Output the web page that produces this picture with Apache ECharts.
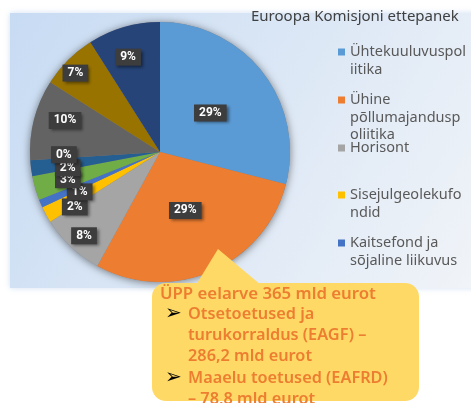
<!DOCTYPE html>
<html>
<head>
<meta charset="utf-8"/>
<title>Euroopa Komisjoni ettepanek</title>
<script type="text/javascript" src="https://cdn.jsdelivr.net/npm/echarts@6/dist/echarts.min.js"></script>
<style type="text/css">
	body{
		margin: 0px;
		padding: 0px;
		background: #fff;
	}
	#chart{
		width: 471px;
		height: 403px;
	}
</style>
</head>
<body>
	<div id="chart"></div>
<script type="text/javascript">
	// 数据
	var names = ['Ühtekuuluvuspoliitika','Ühine põllumajanduspoliitika','Horisont','Sisejulgeolekufondid','Kaitsefond ja sõjaline liikuvus','Erasmus+','Euroopa ühendamise rahastu','Muu','Naabrus ja maailm','Ränne ja piirihaldus','Euroopa avalik haldus'];
	var values = [29, 29, 8, 2, 1, 3, 2, 0, 10, 7, 9];
	var legendNames = ['Ühtekuuluvuspoliitika','Ühine põllumajanduspoliitika','Horisont','Sisejulgeolekufondid','Kaitsefond ja sõjaline liikuvus'];
	var legendLines = [['Ühtekuuluvuspol','iitika'],['Ühine','põllumajandusp','oliitika'],['Horisont'],['Sisejulgeolekufo','ndid'],['Kaitsefond ja','sõjaline liikuvus']];
	var calloutHead = 'ÜPP eelarve 365 mld eurot';
	var calloutItems = [['Otsetoetused ja','turukorraldus (EAGF) –','286,2 mld eurot'],['Maaelu toetused (EAFRD)','– 78,8 mld eurot']];

	// 样式
	var colors = ['#5B9BD5','#ED7D31','#A5A5A5','#FFC000','#4472C4','#70AD47','#255E91','#9E480E','#636363','#997300','#264478'];
	var CX = 160, CY = 152, R = 130;
	var labelDist = [0.49, 0.49, 0.87, 0.78, 0.69, 0.74, 0.72, 0.74, 0.77, 0.89, 0.77];
	var labelShift = [0, 0, -1, -4, -3, -0.5, -2.5, 2, 4, -2, -2.4];
	var legendY = [52, 100, 148, 195, 243];
	var LH = 17.5;

	// 标签中心角
	var total = 0;
	for (var i = 0; i < values.length; i++) total += values[i];
	var mids = [];
	var acc = 0;
	for (var i = 0; i < values.length; i++) {
		mids.push(((acc + values[i] / 2) / total * 360 + labelShift[i]) * Math.PI / 180);
		acc += values[i];
	}

	var pieData = [];
	for (var i = 0; i < names.length; i++) {
		pieData.push({name: names[i], value: values[i]});
	}

	// 图例, 每项一个; 前面补空行让首行对齐图标
	var legends = [];
	for (var i = 0; i < legendNames.length; i++) {
		var n = legendLines[i].length;
		var pad = '';
		for (var k = 1; k < n; k++) pad += ' \n';
		legends.push({
			data: [legendNames[i]],
			left: 338,
			top: legendY[i] - (2 * n - 1) * LH / 2,
			padding: 0,
			icon: 'rect',
			itemWidth: 7,
			itemHeight: 7,
			selectedMode: false,
			formatter: (function (txt) {
				return function () { return txt; };
			})(pad + legendLines[i].join('\n')),
			textStyle: {
				color: '#595959',
				fontSize: 14.5,
				fontFamily: 'Noto Sans',
				lineHeight: LH
			}
		});
	}

	// 背景与黄色提示框
	var graphics = [
		{
			type: 'rect', z: -10, silent: true,
			shape: {x: 10, y: 13, width: 470, height: 275},
			style: {
				fill: new echarts.graphic.LinearGradient(0, 0, 1, 1, [
					{offset: 0, color: '#c7dbf3'},
					{offset: 1, color: '#f1f4f8'}
				]),
				shadowBlur: 6,
				shadowColor: 'rgba(205,222,242,0.9)'
			}
		},
		{
			type: 'polygon', z: 10, silent: true,
			shape: {points: [[218, 249], [196, 285], [261, 285]]},
			style: {fill: '#FFD966'}
		},
		{
			type: 'rect', z: 10, silent: true,
			shape: {x: 152, y: 283, width: 267, height: 118, r: 14},
			style: {fill: '#FFD966'}
		},
		{
			type: 'text', z: 11, silent: true, x: 160, y: 294,
			style: {text: calloutHead, fill: '#ED7D31', font: '600 16.8px "Noto Sans"', verticalAlign: 'middle'}
		}
	];
	var lineY = 314;
	for (var i = 0; i < calloutItems.length; i++) {
		graphics.push({
			type: 'text', z: 11, silent: true, x: 165, y: lineY,
			style: {text: '➢', fill: '#000', font: '20px "DejaVu Sans"', verticalAlign: 'middle'}
		});
		graphics.push({
			type: 'text', z: 11, silent: true, x: 188, y: lineY - 10.5,
			style: {text: calloutItems[i].join('\n'), fill: '#ED7D31', font: '600 16.3px "Noto Sans"', lineHeight: 21.3, verticalAlign: 'top'}
		});
		lineY += calloutItems[i].length * 21.3;
	}

	var myChart = echarts.init(document.getElementById('chart'));
	var option = {
		animation: false,
		title: {
			text: 'Euroopa Komisjoni ettepanek',
			left: 251,
			top: 9,
			padding: 0,
			textStyle: {
				color: '#404040',
				fontSize: 15,
				fontWeight: 'normal',
				fontFamily: 'Noto Sans'
			}
		},
		legend: legends,
		graphic: graphics,
		series: [
			{
				// 阴影底
				type: 'pie',
				silent: true,
				center: [CX, CY],
				radius: R,
				z: 1,
				label: {show: false},
				labelLine: {show: false},
				itemStyle: {
					color: '#7f7f7f',
					shadowBlur: 9,
					shadowColor: 'rgba(0,0,0,0.5)',
					shadowOffsetY: 1
				},
				data: [{name: '', value: 1}]
			},
			{
				type: 'pie',
				center: [CX, CY],
				radius: R,
				z: 2,
				startAngle: 90,
				clockwise: true,
				color: colors,
				avoidLabelOverlap: false,
				labelLine: {show: false},
				label: {
					show: true,
					position: 'inside',
					formatter: function (p) { return Math.round(p.percent) + '%'; },
					color: '#fff',
					fontWeight: 'bold',
					fontSize: 12,
					fontFamily: 'Roboto',
					lineHeight: 13,
					backgroundColor: '#3d3d3d',
					padding: [2, 5],
					shadowColor: 'rgba(0,0,0,0.45)',
					shadowBlur: 3,
					shadowOffsetX: 2,
					shadowOffsetY: 2
				},
				labelLayout: function (p) {
					if (p.seriesIndex !== 1) return;
					var a = mids[p.dataIndex];
					var d = labelDist[p.dataIndex] * R;
					return {
						x: CX + d * Math.sin(a),
						y: CY - d * Math.cos(a),
						align: 'center',
						verticalAlign: 'middle'
					};
				},
				data: pieData
			}
		]
	};
	myChart.setOption(option);
</script>
</body>
</html>
